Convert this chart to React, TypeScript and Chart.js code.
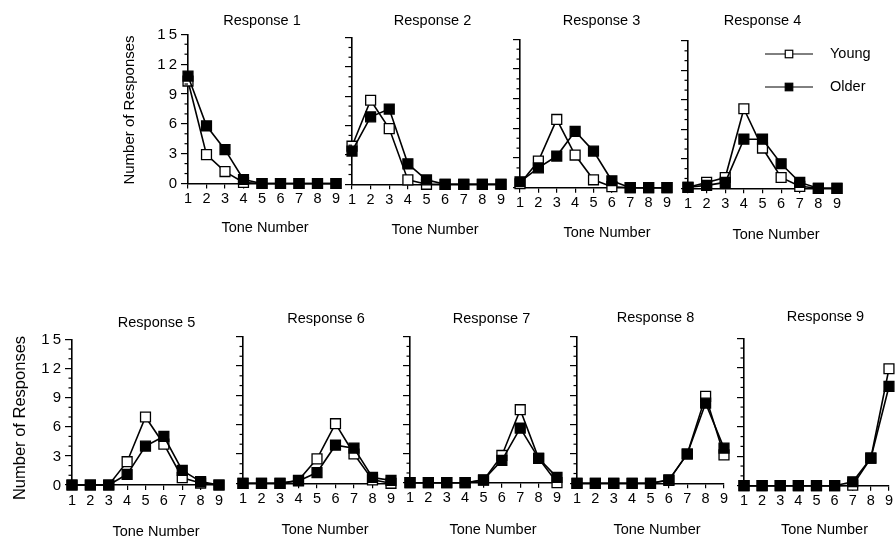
import React, { useEffect, useRef } from "react";
import { Chart, registerables } from "chart.js";

Chart.register(...registerables);

// ---------------- data ----------------
const tones = [1, 2, 3, 4, 5, 6, 7, 8, 9];
const seriesNames = ["Young", "Older"];
const panelTitles = [
  "Response 1", "Response 2", "Response 3", "Response 4", "Response 5",
  "Response 6", "Response 7", "Response 8", "Response 9",
];
const xAxisTitle = "Tone Number";
const yAxisTitle = "Number of Responses";
const yMin = 0;
const yMax = 15;
const yLabelStep = 3;

const young1 = [10.3, 2.9, 1.2, 0.1, 0, 0, 0, 0, 0];
const older1 = [10.8, 5.8, 3.4, 0.4, 0, 0, 0, 0, 0];
const young2 = [3.9, 8.6, 5.7, 0.45, 0, 0, 0, 0, 0];
const older2 = [3.4, 6.9, 7.7, 2.1, 0.45, 0, 0, 0, 0];
const young3 = [0.4, 2.7, 6.9, 3.3, 0.8, 0.1, 0, 0, 0];
const older3 = [0.6, 2.0, 3.2, 5.7, 3.7, 0.7, 0, 0, 0];
const young4 = [0.1, 0.6, 1.1, 8.1, 4.1, 1.1, 0.2, 0, 0];
const older4 = [0.1, 0.3, 0.6, 5.0, 5.0, 2.5, 0.6, 0, 0];
const young5 = [0, 0, 0, 2.4, 7.0, 4.2, 0.75, 0.2, 0];
const older5 = [0, 0, 0, 1.1, 4.0, 5.0, 1.5, 0.35, 0];
const young6 = [0, 0, 0, 0.3, 2.5, 6.1, 3.0, 0.35, 0];
const older6 = [0, 0, 0, 0.25, 1.1, 3.9, 3.6, 0.6, 0.3];
const young7 = [0, 0, 0, 0, 0.25, 2.8, 7.5, 2.5, 0];
const older7 = [0, 0, 0, 0, 0.3, 2.3, 5.6, 2.5, 0.55];
const young8 = [0, 0, 0, 0, 0, 0.3, 3.0, 8.9, 2.9];
const older8 = [0, 0, 0, 0, 0, 0.35, 3.0, 8.2, 3.6];
const young9 = [0, 0, 0, 0, 0, 0, 0.05, 2.8, 11.9];
const older9 = [0, 0, 0, 0, 0, 0, 0.4, 2.8, 10.1];

const youngSeries = [young1, young2, young3, young4, young5, young6, young7, young8, young9];
const olderSeries = [older1, older2, older3, older4, older5, older6, older7, older8, older9];

// ---------------- layout ----------------
const W = 895;
const H = 539;
const Y_AXIS_W = 40;
const X_AXIS_H = 30;
const FONT = '"Liberation Sans", Arial, Helvetica, sans-serif';

type Box = {
  left: number; right: number; top: number; bottom: number;
  tdx: number; tdy: number; xdx: number; xdy: number;
  yLabels: boolean; yTitle?: { x: number; y: number; size: number };
  legend?: { x0: number; x1: number; y: number; gap: number; textX: number };
};

const panelBoxes: Box[] = [
  { left: 188, right: 336, top: 34.3, bottom: 183.5, tdx: 0, tdy: -13, xdx: 3, xdy: 44.5, yLabels: true, yTitle: { x: 130, y: 110, size: 15 } },
  { left: 352, right: 501, top: 37.7, bottom: 184.3, tdx: 6, tdy: -17, xdx: 8.5, xdy: 46, yLabels: false },
  { left: 520, right: 667, top: 39.3, bottom: 187.7, tdx: 8, tdy: -18, xdx: 13.5, xdy: 45, yLabels: false },
  { left: 688, right: 837, top: 41, bottom: 188.3, tdx: 0, tdy: -20, xdx: 13.5, xdy: 47, yLabels: false, legend: { x0: 765, x1: 813, y: 54, gap: 33, textX: 830 } },
  { left: 72, right: 219, top: 339.3, bottom: 485, tdx: 11, tdy: -16, xdx: 10.5, xdy: 47, yLabels: true, yTitle: { x: 20, y: 418, size: 16.5 } },
  { left: 243, right: 391, top: 336.7, bottom: 483.3, tdx: 9, tdy: -18, xdx: 8, xdy: 47, yLabels: false },
  { left: 410, right: 557, top: 336.7, bottom: 482.7, tdx: 8, tdy: -18, xdx: 9.5, xdy: 47, yLabels: false },
  { left: 577, right: 724, top: 336.7, bottom: 483.3, tdx: 5, tdy: -19, xdx: 6.5, xdy: 47, yLabels: false },
  { left: 744, right: 892, top: 338.3, bottom: 485.7, tdx: 9, tdy: -21, xdx: 8, xdy: 44, yLabels: false },
];

function drawMarker(ctx: CanvasRenderingContext2D, x: number, y: number, size: number, fill: string) {
  ctx.fillStyle = fill;
  ctx.fillRect(x - size / 2, y - size / 2, size, size);
  ctx.strokeStyle = "#000";
  ctx.lineWidth = 1.2;
  ctx.strokeRect(x - size / 2, y - size / 2, size, size);
}

function makeChart(canvas: HTMLCanvasElement, i: number) {
  const box = panelBoxes[i];
  const mk = (vals: number[]) => tones.map((t, k) => ({ x: t, y: vals[k] }));
  const common = {
    borderColor: "#000",
    borderWidth: 1.6,
    pointStyle: "rect",
    pointRadius: 7,
    pointBorderColor: "#000",
    pointBorderWidth: 1.3,
    tension: 0,
    clip: false,
    fill: false,
  };
  const datasets: any[] = [
    { ...common, label: seriesNames[0], data: mk(youngSeries[i]), backgroundColor: "#fff", pointBackgroundColor: "#fff", order: 1 },
    { ...common, label: seriesNames[1], data: mk(olderSeries[i]), backgroundColor: "#000", pointBackgroundColor: "#000", order: 0 },
  ];

  const decor = {
    id: "decor",
    afterDraw(chart: any) {
      const { ctx, chartArea: a, scales } = chart;
      const ys = scales.y;
      ctx.save();
      // minor y ticks
      ctx.strokeStyle = "#000";
      ctx.lineWidth = 1.2;
      ys.ticks.forEach((t: any) => {
        if (t.value % yLabelStep === 0) return;
        const py = ys.getPixelForValue(t.value);
        ctx.beginPath();
        ctx.moveTo(a.left - 3.5, py);
        ctx.lineTo(a.left, py);
        ctx.stroke();
      });
      ctx.fillStyle = "#000";
      // y tick labels
      if (box.yLabels) {
        ctx.font = `15px ${FONT}`;
        ctx.textAlign = "right";
        ctx.textBaseline = "middle";
        (ctx as any).letterSpacing = "3px";
        ys.ticks.forEach((t: any) => {
          if (t.value % yLabelStep !== 0) return;
          const py = ys.getPixelForValue(t.value);
          ctx.fillText(String(t.value), a.left - 8, py + 0.5);
        });
        (ctx as any).letterSpacing = "0px";
      }
      // panel title
      const cx = (a.left + a.right) / 2;
      ctx.font = `14.5px ${FONT}`;
      ctx.textAlign = "center";
      ctx.textBaseline = "middle";
      ctx.fillText(panelTitles[i], cx + box.tdx, a.top + box.tdy);
      // x axis title
      ctx.fillText(xAxisTitle, cx + box.xdx, a.bottom + box.xdy);
      // y axis title
      if (box.yTitle) {
        ctx.save();
        ctx.translate(box.yTitle.x, box.yTitle.y);
        ctx.rotate(-Math.PI / 2);
        ctx.font = `${box.yTitle.size}px ${FONT}`;
        ctx.fillText(yAxisTitle, 0, 0);
        ctx.restore();
      }
      // legend
      if (box.legend) {
        const lg = box.legend;
        chart.data.datasets.forEach((ds: any, k: number) => {
          const y = lg.y + k * lg.gap;
          ctx.strokeStyle = "#000";
          ctx.lineWidth = 1;
          ctx.beginPath();
          ctx.moveTo(lg.x0, y);
          ctx.lineTo(lg.x1, y);
          ctx.stroke();
          drawMarker(ctx, (lg.x0 + lg.x1) / 2, y, 7.5, ds.pointBackgroundColor);
          ctx.fillStyle = "#000";
          ctx.font = `14.5px ${FONT}`;
          ctx.textAlign = "left";
          ctx.textBaseline = "middle";
          ctx.fillText(ds.label, lg.textX, y);
        });
      }
      ctx.restore();
    },
  };

  return new Chart(canvas, {
    type: "line",
    data: { datasets },
    options: {
      responsive: false,
      animation: false,
      events: [],
      layout: {
        autoPadding: false,
        padding: {
          left: box.left - Y_AXIS_W,
          right: W - box.right,
          top: box.top,
          bottom: H - box.bottom - X_AXIS_H,
        },
      },
      plugins: {
        legend: { display: false },
        title: { display: false },
        tooltip: { enabled: false },
      },
      scales: {
        x: {
          type: "linear",
          min: tones[0],
          max: tones[tones.length - 1],
          afterFit: (s: any) => { s.height = X_AXIS_H; },
          afterBuildTicks: (s: any) => { s.ticks = tones.map((v) => ({ value: v })); },
          ticks: {
            color: "#000",
            font: { size: 14.5, family: FONT },
            padding: 2,
            maxRotation: 0,
            autoSkip: false,
          },
          grid: {
            drawOnChartArea: false,
            drawTicks: true,
            tickLength: 5,
            color: "#000",
            lineWidth: 1.2,
          },
          border: { display: true, color: "#000", width: 1.6 },
        },
        y: {
          type: "linear",
          min: yMin,
          max: yMax,
          afterFit: (s: any) => { s.width = Y_AXIS_W; },
          ticks: { stepSize: 1, display: false },
          grid: {
            drawOnChartArea: false,
            drawTicks: true,
            tickLength: 7,
            color: (c: any) => (c.tick && c.tick.value % yLabelStep === 0 ? "#000" : "rgba(0,0,0,0)"),
            lineWidth: 1.2,
          },
          border: { display: true, color: "#000", width: 1.6 },
        },
      },
    } as any,
    plugins: [decor],
  } as any);
}

export default function App() {
  const refs = useRef<(HTMLCanvasElement | null)[]>([]);
  useEffect(() => {
    const charts = panelBoxes.map((_, i) => makeChart(refs.current[i] as HTMLCanvasElement, i));
    return () => charts.forEach((c) => c.destroy());
  }, []);
  return (
    <div style={{ position: "absolute", left: 0, top: 0, width: W, height: H, background: "#fff", overflow: "hidden" }}>
      {panelBoxes.map((_, i) => (
        <canvas
          key={i}
          ref={(el) => { refs.current[i] = el; }}
          width={W}
          height={H}
          style={{ position: "absolute", left: 0, top: 0, width: W, height: H, display: "block" }}
        />
      ))}
    </div>
  );
}
